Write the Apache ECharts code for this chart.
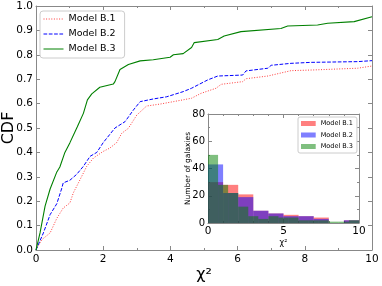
<!DOCTYPE html>
<html><head><meta charset="utf-8">
<script src="https://cdn.jsdelivr.net/npm/echarts@6/dist/echarts.min.js"></script>
<style>html,body{margin:0;padding:0;background:#fff}#c{width:382px;height:286px}</style>
</head><body><div id="c"></div>
<script>
// CDF curves (chi^2, CDF)
const b1X = [0,0.17,0.42,0.62,0.81,1.01,1.11,1.31,1.51,1.71,2.0,2.2,2.4,2.55,2.75,3.0,3.29,3.69,4.09,4.63,4.91,5.36,5.51,6.15,6.25,6.9,7.59,8.28,9.57,10.0];
const b1Y = [0,0.042,0.07,0.13,0.172,0.193,0.234,0.288,0.343,0.377,0.404,0.418,0.44,0.478,0.499,0.553,0.59,0.598,0.608,0.622,0.642,0.663,0.679,0.69,0.702,0.713,0.735,0.738,0.745,0.754];
const b2X = [0,0.22,0.42,0.62,0.76,0.81,1.01,1.21,1.41,1.61,1.81,2.0,2.35,2.65,2.9,3.1,3.49,3.89,4.38,4.63,5.11,5.41,6.15,6.25,6.9,7.0,7.59,8.18,9.57,10.0];
const b2Y = [0,0.07,0.145,0.19,0.25,0.275,0.286,0.31,0.343,0.384,0.40,0.44,0.5,0.526,0.574,0.608,0.619,0.628,0.649,0.663,0.697,0.713,0.717,0.734,0.745,0.757,0.765,0.769,0.772,0.776];
const b3X = [0,0.12,0.27,0.42,0.62,0.71,0.86,1.01,1.23,1.41,1.53,1.66,1.9,2.3,2.35,2.5,2.75,3.1,3.49,3.99,4.09,4.38,4.63,4.71,5.41,5.6,6.1,7.29,7.49,8.38,8.68,9.47,10.0];
const b3Y = [0,0.07,0.18,0.25,0.32,0.34,0.40,0.44,0.505,0.56,0.615,0.64,0.667,0.68,0.69,0.74,0.76,0.775,0.78,0.79,0.80,0.805,0.83,0.85,0.863,0.877,0.895,0.908,0.918,0.922,0.929,0.936,0.956];

// Inset histograms: bin edges and counts
const h1Edges = [0,1,2,3,4,5,6,7,8,9,10];
const h1Counts = [30,28,21,9,7,6,5,4,0,2];
const h2Edges = [0,1,2,3,4,5,6,7,8,9,10];
const h2Counts = [43,22,19,9,7,5,5,3,0,2];
const h3Edges = [0,0.667,1.333,2,2.667,3.333,4,4.667,5.333,6,6.667,7.333,8,8.667,9.333,10];
const h3Counts = [50,28,22,12,5,3,5,4,4,2,2,2,1,1,2];

const names = ['Model B.1','Model B.2','Model B.3'];

const F = 'DejaVu Sans';
const AX = '#888';
function pairs(xs, ys){ return xs.map((x,i)=>[x, ys[i]]); }
function bins(edges, counts){ return counts.map((c,i)=>[edges[i], edges[i+1], c]); }

function renderBar(params, api){
  const p0 = api.coord([api.value(0), api.value(2)]);
  const p1 = api.coord([api.value(1), 0]);
  return {type:'rect', shape:{x:p0[0], y:p0[1], width:p1[0]-p0[0], height:p1[1]-p0[1]},
    style:{fill: api.visual('color')}};
}

function axisBase(extra){
  return Object.assign({
    axisLine:{show:true, onZero:false, lineStyle:{color:AX, width:1}},
    axisTick:{show:true, inside:true, length:4, lineStyle:{color:AX}},
    splitLine:{show:false},
    nameMoveOverlap:false
  }, extra);
}

const chart = echarts.init(document.getElementById('c'), null, {renderer:'canvas'});
chart.setOption({
  animation:false,
  backgroundColor:'#fff',
  textStyle:{fontFamily:F},
  grid:[
    {left:36, top:6, width:336, height:244, containLabel:false, outerBoundsMode:'none'},
    {left:208, top:114, width:151, height:109, show:true, backgroundColor:'#fff', borderWidth:0,
     containLabel:false, outerBoundsMode:'none'}
  ],
  legend:[
    {left:40, top:11, orient:'vertical', data:names, itemWidth:20, itemHeight:9, itemGap:5,
     padding:[3,9,4,3], backgroundColor:'#fff', borderColor:'#ccc', borderWidth:1, borderRadius:3,
     itemStyle:{opacity:0}, lineStyle:{width:1},
     textStyle:{fontFamily:F, fontSize:9.5, color:'#000'}, selectedMode:false},
    {left:298, top:117, orient:'vertical', data:['h1','h2','h3'], itemWidth:14.7, itemHeight:5, itemGap:4.5,
     padding:[3,4,3,3], backgroundColor:'#fff', borderColor:'#ccc', borderWidth:1, borderRadius:2,
     icon:'rect', selectedMode:false, z:10,
     formatter:n=>names[['h1','h2','h3'].indexOf(n)],
     textStyle:{fontFamily:F, fontSize:6.5, color:'#000'}}
  ],
  xAxis:[
    axisBase({gridIndex:0, type:'value', min:0, max:10, interval:2, position:'bottom',
      minorTick:{show:true, splitNumber:2, length:2, lineStyle:{color:AX}},
      axisLabel:{fontSize:10.5, color:'#000', margin:4, fontFamily:F},
      name:'χ²', nameLocation:'middle', nameGap:17, nameTextStyle:{fontSize:16, color:'#000', fontFamily:F}}),
    axisBase({gridIndex:0, type:'value', min:0, max:10, interval:2, position:'top',
      minorTick:{show:true, splitNumber:2, length:2, lineStyle:{color:AX}},
      axisLabel:{show:false}}),
    axisBase({gridIndex:1, type:'value', min:0, max:10, interval:5, position:'bottom',
      minorTick:{show:true, splitNumber:5, length:2, lineStyle:{color:AX}},
      axisLabel:{fontSize:10.5, color:'#000', margin:3, fontFamily:F},
      name:'χ²', nameLocation:'middle', nameGap:16, nameTextStyle:{fontSize:8, color:'#000', fontFamily:F}}),
    axisBase({gridIndex:1, type:'value', min:0, max:10, interval:5, position:'top',
      minorTick:{show:true, splitNumber:5, length:2, lineStyle:{color:AX}},
      axisLabel:{show:false}})
  ],
  yAxis:[
    axisBase({gridIndex:0, type:'value', min:0, max:1, interval:0.1, position:'left',
      axisLabel:{fontSize:10.5, color:'#000', margin:3, fontFamily:F, formatter:v=>v.toFixed(1)},
      name:'CDF', nameLocation:'middle', nameGap:19, nameTextStyle:{fontSize:16, color:'#000', fontFamily:F}}),
    axisBase({gridIndex:0, type:'value', min:0, max:1, interval:0.1, position:'right',
      axisLabel:{show:false}}),
    axisBase({gridIndex:1, type:'value', min:0, max:80, interval:20, position:'left',
      minorTick:{show:true, splitNumber:2, length:2, lineStyle:{color:AX}},
      axisLabel:{fontSize:10, color:'#000', margin:3, fontFamily:F},
      name:'Number of galaxies', nameLocation:'middle', nameGap:16, nameTextStyle:{fontSize:7.5, color:'#000', fontFamily:F}}),
    axisBase({gridIndex:1, type:'value', min:0, max:80, interval:20, position:'right',
      minorTick:{show:true, splitNumber:2, length:2, lineStyle:{color:AX}},
      axisLabel:{show:false}})
  ],
  series:[
    {name:names[0], type:'line', xAxisIndex:0, yAxisIndex:0, data:pairs(b1X,b1Y), symbol:'none',
     color:'#ff3a3a', lineStyle:{color:'#ff3a3a', width:1, type:[1,1.6]}},
    {name:names[1], type:'line', xAxisIndex:0, yAxisIndex:0, data:pairs(b2X,b2Y), symbol:'none',
     color:'#0000ff', lineStyle:{color:'#0000ff', width:1, type:[3.7,1.6]}},
    {name:names[2], type:'line', xAxisIndex:0, yAxisIndex:0, data:pairs(b3X,b3Y), symbol:'none',
     color:'#008000', lineStyle:{color:'#008000', width:1.1, type:'solid'}},
    {name:'h1', type:'custom', xAxisIndex:2, yAxisIndex:2, data:bins(h1Edges,h1Counts), renderItem:renderBar,
     encode:{x:[0,1], y:2}, itemStyle:{color:'rgba(255,0,0,0.5)'}, z:6},
    {name:'h2', type:'custom', xAxisIndex:2, yAxisIndex:2, data:bins(h2Edges,h2Counts), renderItem:renderBar,
     encode:{x:[0,1], y:2}, itemStyle:{color:'rgba(0,0,255,0.5)'}, z:6},
    {name:'h3', type:'custom', xAxisIndex:2, yAxisIndex:2, data:bins(h3Edges,h3Counts), renderItem:renderBar,
     encode:{x:[0,1], y:2}, itemStyle:{color:'rgba(0,128,0,0.5)'}, z:6}
  ]
});
</script></body></html>
